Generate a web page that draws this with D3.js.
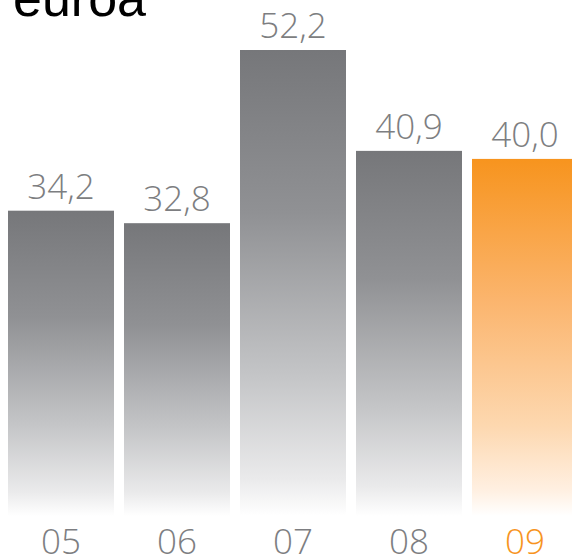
<!DOCTYPE html>
<html><head><meta charset="utf-8">
<script src="https://cdn.jsdelivr.net/npm/d3@7/dist/d3.min.js"></script>
<style>html,body{margin:0;padding:0;background:#fff;overflow:hidden}</style>
</head><body>
<svg id="c" width="572" height="559"></svg>
<script>
const categories = ["05","06","07","08","09"];
const values = [34.2, 32.8, 52.2, 40.9, 40.0];
const valueLabels = ["34,2","32,8","52,2","40,9","40,0"];
const unitLabel = "euroa";
const highlight = "09";

const svg = d3.select("#c");
const x = d3.scaleBand().domain(categories).range([3, 583]).paddingInner(0.0862).paddingOuter(0.0431);
const y = d3.scaleLinear().domain([0, 52.2]).range([516, 50]);

const defs = svg.append("defs");
const g1 = defs.append("linearGradient").attr("id","gGray").attr("x1",0).attr("y1",0).attr("x2",0).attr("y2",1);
[[0,"#76777a"],[0.35,"#909194"],[0.7,"#c4c5c7"],[0.92,"#eaeaeb"],[1,"#ffffff"]].forEach(s=>g1.append("stop").attr("offset",s[0]).attr("stop-color",s[1]));
const g2 = defs.append("linearGradient").attr("id","gOrange").attr("x1",0).attr("y1",0).attr("x2",0).attr("y2",1);
[[0,"#f7941e"],[0.4,"#fbb56e"],[0.75,"#fdd8b0"],[0.93,"#fff0e2"],[1,"#ffffff"]].forEach(s=>g2.append("stop").attr("offset",s[0]).attr("stop-color",s[1]));

svg.append("text").attr("x",13).attr("y",16).attr("font-family","Liberation Sans, Arial, sans-serif")
  .attr("font-size",52).attr("fill","#000").text(unitLabel);

svg.selectAll("rect.bar").data(categories).join("rect").attr("class","bar")
  .attr("x", d=>x(d)).attr("width", x.bandwidth())
  .attr("y", (d,i)=>y(values[i])).attr("height",(d,i)=>y(0)-y(values[i]))
  .attr("fill", d=> d===highlight ? "url(#gOrange)" : "url(#gGray)");

svg.selectAll("text.val").data(categories).join("text").attr("class","val")
  .attr("x", d=>x(d)+x.bandwidth()/2).attr("y",(d,i)=>y(values[i])-12)
  .attr("text-anchor","middle").attr("font-family","Open Sans, sans-serif").attr("font-weight",300)
  .attr("font-size",35).attr("fill","#7d7e81").text((d,i)=>valueLabels[i]);

svg.selectAll("text.cat").data(categories).join("text").attr("class","cat")
  .attr("x", d=>x(d)+x.bandwidth()/2).attr("y",554)
  .attr("text-anchor","middle").attr("font-family","Open Sans, sans-serif").attr("font-weight",300)
  .attr("font-size",35).attr("fill", d=> d===highlight ? "#f7941e" : "#7d7e81").text(d=>d);
</script>
</body></html>
